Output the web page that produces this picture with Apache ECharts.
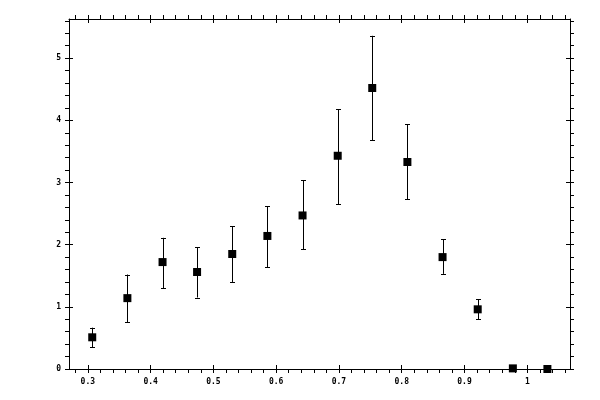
<!DOCTYPE html>
<html>
<head>
<meta charset="utf-8">
<script src="https://cdn.jsdelivr.net/npm/echarts@6/dist/echarts.min.js"></script>
<style>
html,body{margin:0;padding:0;background:#fff;}
#chart{width:600px;height:400px;}
</style>
</head>
<body>
<div id="chart"></div>
<script>
// ---- data ----
const xValues = [0.307, 0.363, 0.419, 0.474, 0.530, 0.586, 0.642, 0.698, 0.753, 0.809, 0.865, 0.921, 0.977, 1.032];
const yValues = [0.51, 1.14, 1.72, 1.56, 1.85, 2.14, 2.47, 3.43, 4.52, 3.33, 1.80, 0.96, 0.01, 0.00];
const errLow  = [0.35, 0.75, 1.30, 1.15, 1.40, 1.64, 1.93, 2.65, 3.68, 2.73, 1.53, 0.80, null, null];
const errHigh = [0.665, 1.52, 2.11, 1.96, 2.30, 2.62, 3.04, 4.18, 5.36, 3.94, 2.09, 1.12, null, null];
const xTickLabels = [0.3, 0.4, 0.5, 0.6, 0.7, 0.8, 0.9, 1.0];
const yTickLabels = [0, 1, 2, 3, 4, 5];

// ---- axis config ----
const X_MIN = 0.27, X_MAX = 1.068, Y_MIN = 0, Y_MAX = 5.63;
function steps(a, b, s) {
  const out = [];
  const n = Math.round((b - a) / s);
  for (let i = 0; i <= n; i++) out.push(Math.round((a + i * s) * 1000) / 1000);
  return out;
}
const xMinor = steps(0.28, 1.06, 0.02);
const yMinor = steps(0, 5.6, 0.2);

const font = { fontFamily: 'DejaVu Sans Mono', fontSize: 8, fontWeight: 'bold', color: '#000' };
const line = { show: true, onZero: false, lineStyle: { color: '#000', width: 1 } };

function mkAxis(pos, isX, kind) {
  const majors = isX ? xTickLabels : yTickLabels;
  const minors = isX ? xMinor : yMinor;
  const ax = {
    type: 'value', position: pos,
    min: isX ? X_MIN : Y_MIN, max: isX ? X_MAX : Y_MAX,
    splitLine: { show: false },
    axisLine: kind === 'out' ? line : { show: false, onZero: false },
    axisTick: {
      show: true,
      inside: kind === 'in',
      length: 4,
      customValues: kind === 'in' ? majors : minors,
      lineStyle: { color: '#000', width: 1 }
    },
    axisLabel: { show: false }
  };
  if (kind === 'out' && (pos === 'bottom' || pos === 'left')) {
    ax.axisLabel = Object.assign({ show: true, customValues: majors, margin: isX ? 9 : 8,
      formatter: v => String(v) }, font);
  }
  return ax;
}

const chart = echarts.init(document.getElementById('chart'), null, { renderer: 'canvas' });
chart.setOption({
  backgroundColor: '#fff',
  animation: false,
  grid: { left: 69, right: 30, top: 19, bottom: 31, containLabel: false },
  xAxis: [mkAxis('bottom', true, 'out'), mkAxis('bottom', true, 'in'), mkAxis('top', true, 'out'), mkAxis('top', true, 'in')],
  yAxis: [mkAxis('left', false, 'out'), mkAxis('left', false, 'in'), mkAxis('right', false, 'out'), mkAxis('right', false, 'in')],
  series: [
    {
      type: 'custom',
      xAxisIndex: 0, yAxisIndex: 0,
      clip: false,
      encode: { x: 0, y: [1, 2] },
      data: xValues.map((x, i) => [x, errLow[i], errHigh[i]]).filter(d => d[1] != null),
      renderItem: function (params, api) {
        const lo = api.coord([api.value(0), api.value(1)]);
        const hi = api.coord([api.value(0), api.value(2)]);
        const x = Math.round(lo[0]) + 0.5;
        const w = 2.5;
        const st = { stroke: '#000', lineWidth: 1 };
        return {
          type: 'group',
          children: [
            { type: 'line', shape: { x1: x, y1: lo[1], x2: x, y2: hi[1] }, style: st },
            { type: 'line', shape: { x1: x - w, y1: Math.round(lo[1]) + 0.5, x2: x + w, y2: Math.round(lo[1]) + 0.5 }, style: st },
            { type: 'line', shape: { x1: x - w, y1: Math.round(hi[1]) + 0.5, x2: x + w, y2: Math.round(hi[1]) + 0.5 }, style: st }
          ]
        };
      },
      z: 2
    },
    {
      type: 'scatter',
      xAxisIndex: 0, yAxisIndex: 0,
      clip: false,
      symbol: 'rect',
      symbolSize: 8,
      itemStyle: { color: '#000', opacity: 1 },
      data: xValues.map((x, i) => [x, yValues[i]]),
      z: 3
    }
  ]
});
</script>
</body>
</html>
